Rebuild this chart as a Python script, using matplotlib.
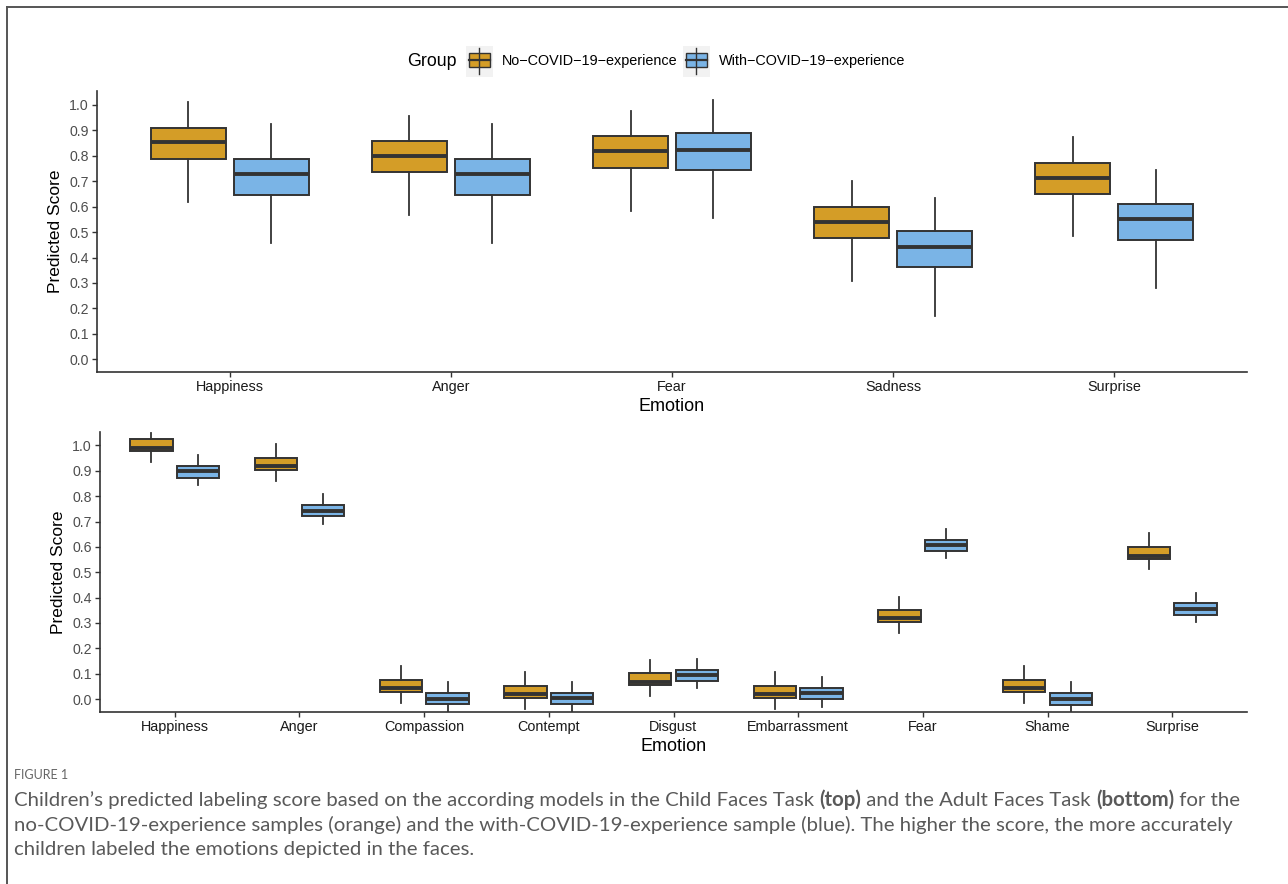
import matplotlib
matplotlib.use("Agg")
import matplotlib.pyplot as plt
from matplotlib.lines import Line2D
from matplotlib.patches import Rectangle

# ---------------- data ----------------
groups = ["No\u2212COVID\u221219\u2212experience", "With\u2212COVID\u221219\u2212experience"]
colors = ["#D49D27", "#7AB4E6"]

top_emotions = ["Happiness", "Anger", "Fear", "Sadness", "Surprise"]
# (whislo, q1, med, q3, whishi)
top_no = [
    (0.619, 0.787, 0.853, 0.909, 1.010),
    (0.567, 0.738, 0.800, 0.858, 0.958),
    (0.585, 0.753, 0.818, 0.877, 0.975),
    (0.308, 0.478, 0.541, 0.600, 0.700),
    (0.483, 0.650, 0.713, 0.773, 0.873),
]
top_with = [
    (0.456, 0.647, 0.727, 0.787, 0.924),
    (0.456, 0.647, 0.727, 0.787, 0.924),
    (0.555, 0.744, 0.824, 0.888, 1.021),
    (0.172, 0.362, 0.442, 0.504, 0.636),
    (0.280, 0.469, 0.550, 0.610, 0.744),
]

bot_emotions = ["Happiness", "Anger", "Compassion", "Contempt", "Disgust",
                "Embarrassment", "Fear", "Shame", "Surprise"]
bot_no = [
    (0.934, 0.979, 0.992, 1.025, 1.050),
    (0.861, 0.904, 0.921, 0.950, 1.005),
    (-0.014, 0.029, 0.045, 0.075, 0.131),
    (-0.040, 0.005, 0.018, 0.050, 0.105),
    (0.010, 0.054, 0.068, 0.101, 0.155),
    (-0.040, 0.004, 0.018, 0.050, 0.105),
    (0.261, 0.304, 0.320, 0.350, 0.404),
    (-0.014, 0.029, 0.045, 0.075, 0.130),
    (0.512, 0.554, 0.566, 0.601, 0.655),
]
bot_with = [
    (0.845, 0.873, 0.898, 0.920, 0.963),
    (0.690, 0.720, 0.743, 0.764, 0.808),
    (-0.060, -0.021, 0.000, 0.022, 0.067),
    (-0.060, -0.021, 0.003, 0.024, 0.067),
    (0.042, 0.070, 0.094, 0.114, 0.157),
    (-0.030, -0.001, 0.024, 0.043, 0.087),
    (0.555, 0.584, 0.609, 0.629, 0.671),
    (-0.060, -0.022, 0.000, 0.022, 0.066),
    (0.303, 0.332, 0.357, 0.377, 0.420),
]

yticks = [0.0, 0.1, 0.2, 0.3, 0.4, 0.5, 0.6, 0.7, 0.8, 0.9, 1.0]

caption_head = "FIGURE 1"

# ---------------- figure ----------------
W, H = 1288, 884
fig = plt.figure(figsize=(W / 100, H / 100), dpi=100)
plt.rcParams['font.family'] = ['Liberation Sans', 'DejaVu Sans']

EDGE = "#333333"


def to_stats(rows):
    out = []
    for lo, q1, med, q3, hi in rows:
        out.append(dict(whislo=lo, q1=q1, med=med, q3=q3, whishi=hi, fliers=[]))
    return out


def panel(rect, emotions, no_rows, with_rows, ylim):
    ax = fig.add_axes(rect)
    n = len(emotions)
    pos = list(range(1, n + 1))
    off = 0.1875
    for rows, c, sgn in [(no_rows, colors[0], -1), (with_rows, colors[1], 1)]:
        ax.bxp(to_stats(rows), positions=[p + sgn * off for p in pos],
               widths=0.34, patch_artist=True, showcaps=False, showfliers=False,
               boxprops=dict(facecolor=c, edgecolor=EDGE, linewidth=1.4),
               whiskerprops=dict(color=EDGE, linewidth=1.3),
               medianprops=dict(color=EDGE, linewidth=2.8, solid_capstyle='butt'),
               manage_ticks=False)
    ax.set_xlim(0.4, n + 0.6)
    ax.set_ylim(*ylim)
    ax.set_xticks(pos)
    ax.set_xticklabels(emotions, fontsize=10.4, color="#1a1a1a")
    ax.set_yticks(yticks)
    ax.set_yticklabels([f"{v:.1f}" for v in yticks], fontsize=10.2, color="#4d4d4d")
    for s in ["top", "right"]:
        ax.spines[s].set_visible(False)
    for s in ["left", "bottom"]:
        ax.spines[s].set_color(EDGE)
        ax.spines[s].set_linewidth(1.2)
    ax.tick_params(axis='both', direction='out', length=3.5, width=1.0, color=EDGE, pad=2.5)
    ax.set_xlabel("Emotion", fontsize=13, color="black", labelpad=2.5)
    ax.set_ylabel("Predicted Score", fontsize=12.5, color="black", labelpad=4)
    return ax


ax1 = panel([97 / W, 1 - 372 / H, 1150 / W, 281 / H], top_emotions, top_no, top_with, (-0.05, 1.055))
ax2 = panel([100 / W, 1 - 711.7 / H, 1147 / W, 279.4 / H], bot_emotions, bot_no, bot_with, (-0.05, 1.052))

# ---------------- legend ----------------
lg = fig.add_axes([0, 1 - 80 / H, 1, 36 / H])
lg.set_xlim(0, W)
lg.set_ylim(80, 44)
lg.axis('off')
lg.text(407, 61.5, "Group", fontsize=12.8, va='center', ha='left', color='black')
key_x = [466, 683]
lab_x = [502, 719]
for kx, lx, c, g in zip(key_x, lab_x, colors, groups):
    lg.add_patch(Rectangle((kx, 46), 27, 31, facecolor="#F2F2F2", edgecolor='none'))
    lg.plot([kx + 13.5, kx + 13.5], [48, 74], color=EDGE, lw=1.0)
    lg.add_patch(Rectangle((kx + 3, 53), 21, 14, facecolor=c, edgecolor=EDGE, lw=1.0))
    lg.plot([kx + 3, kx + 24], [60, 60], color=EDGE, lw=1.6)
    lg.text(lx, 61.5, g, fontsize=10.4, va='center', ha='left', color='black')

# ---------------- frame lines ----------------
fig.add_artist(Line2D([7 / W, 1], [1 - 7 / H, 1 - 7 / H], color="#555555", lw=1.4))
fig.add_artist(Line2D([7 / W, 7 / W], [0, 1 - 7 / H], color="#555555", lw=1.4))

# ---------------- caption ----------------
cap_font = ['Lato', 'DejaVu Sans']
fig.text(14 / W, 1 - 775 / H, caption_head, fontsize=9.0, color="#666666",
         family=cap_font, va='center', ha='left')

line_y = [800, 825, 849]
gray = "#595959"


def rich_line(y, parts):
    x = 14
    renderer = fig.canvas.get_renderer()
    for txt, bold in parts:
        t = fig.text(x / W, 1 - y / H, txt, fontsize=14.65, color=gray, family=cap_font,
                     fontweight='bold' if bold else 'normal', va='center', ha='left')
        bb = t.get_window_extent(renderer=renderer)
        x += bb.width


rich_line(line_y[0], [("Children\u2019s predicted labeling score based on the according models in the Child Faces Task ", False),
                      ("(top)", True),
                      (" and the Adult Faces Task ", False),
                      ("(bottom)", True),
                      (" for the", False)])
rich_line(line_y[1], [("no-COVID-19-experience samples (orange) and the with-COVID-19-experience sample (blue). The higher the score, the more accurately", False)])
rich_line(line_y[2], [("children labeled the emotions depicted in the faces.", False)])

fig.savefig("out.png", dpi=100)
